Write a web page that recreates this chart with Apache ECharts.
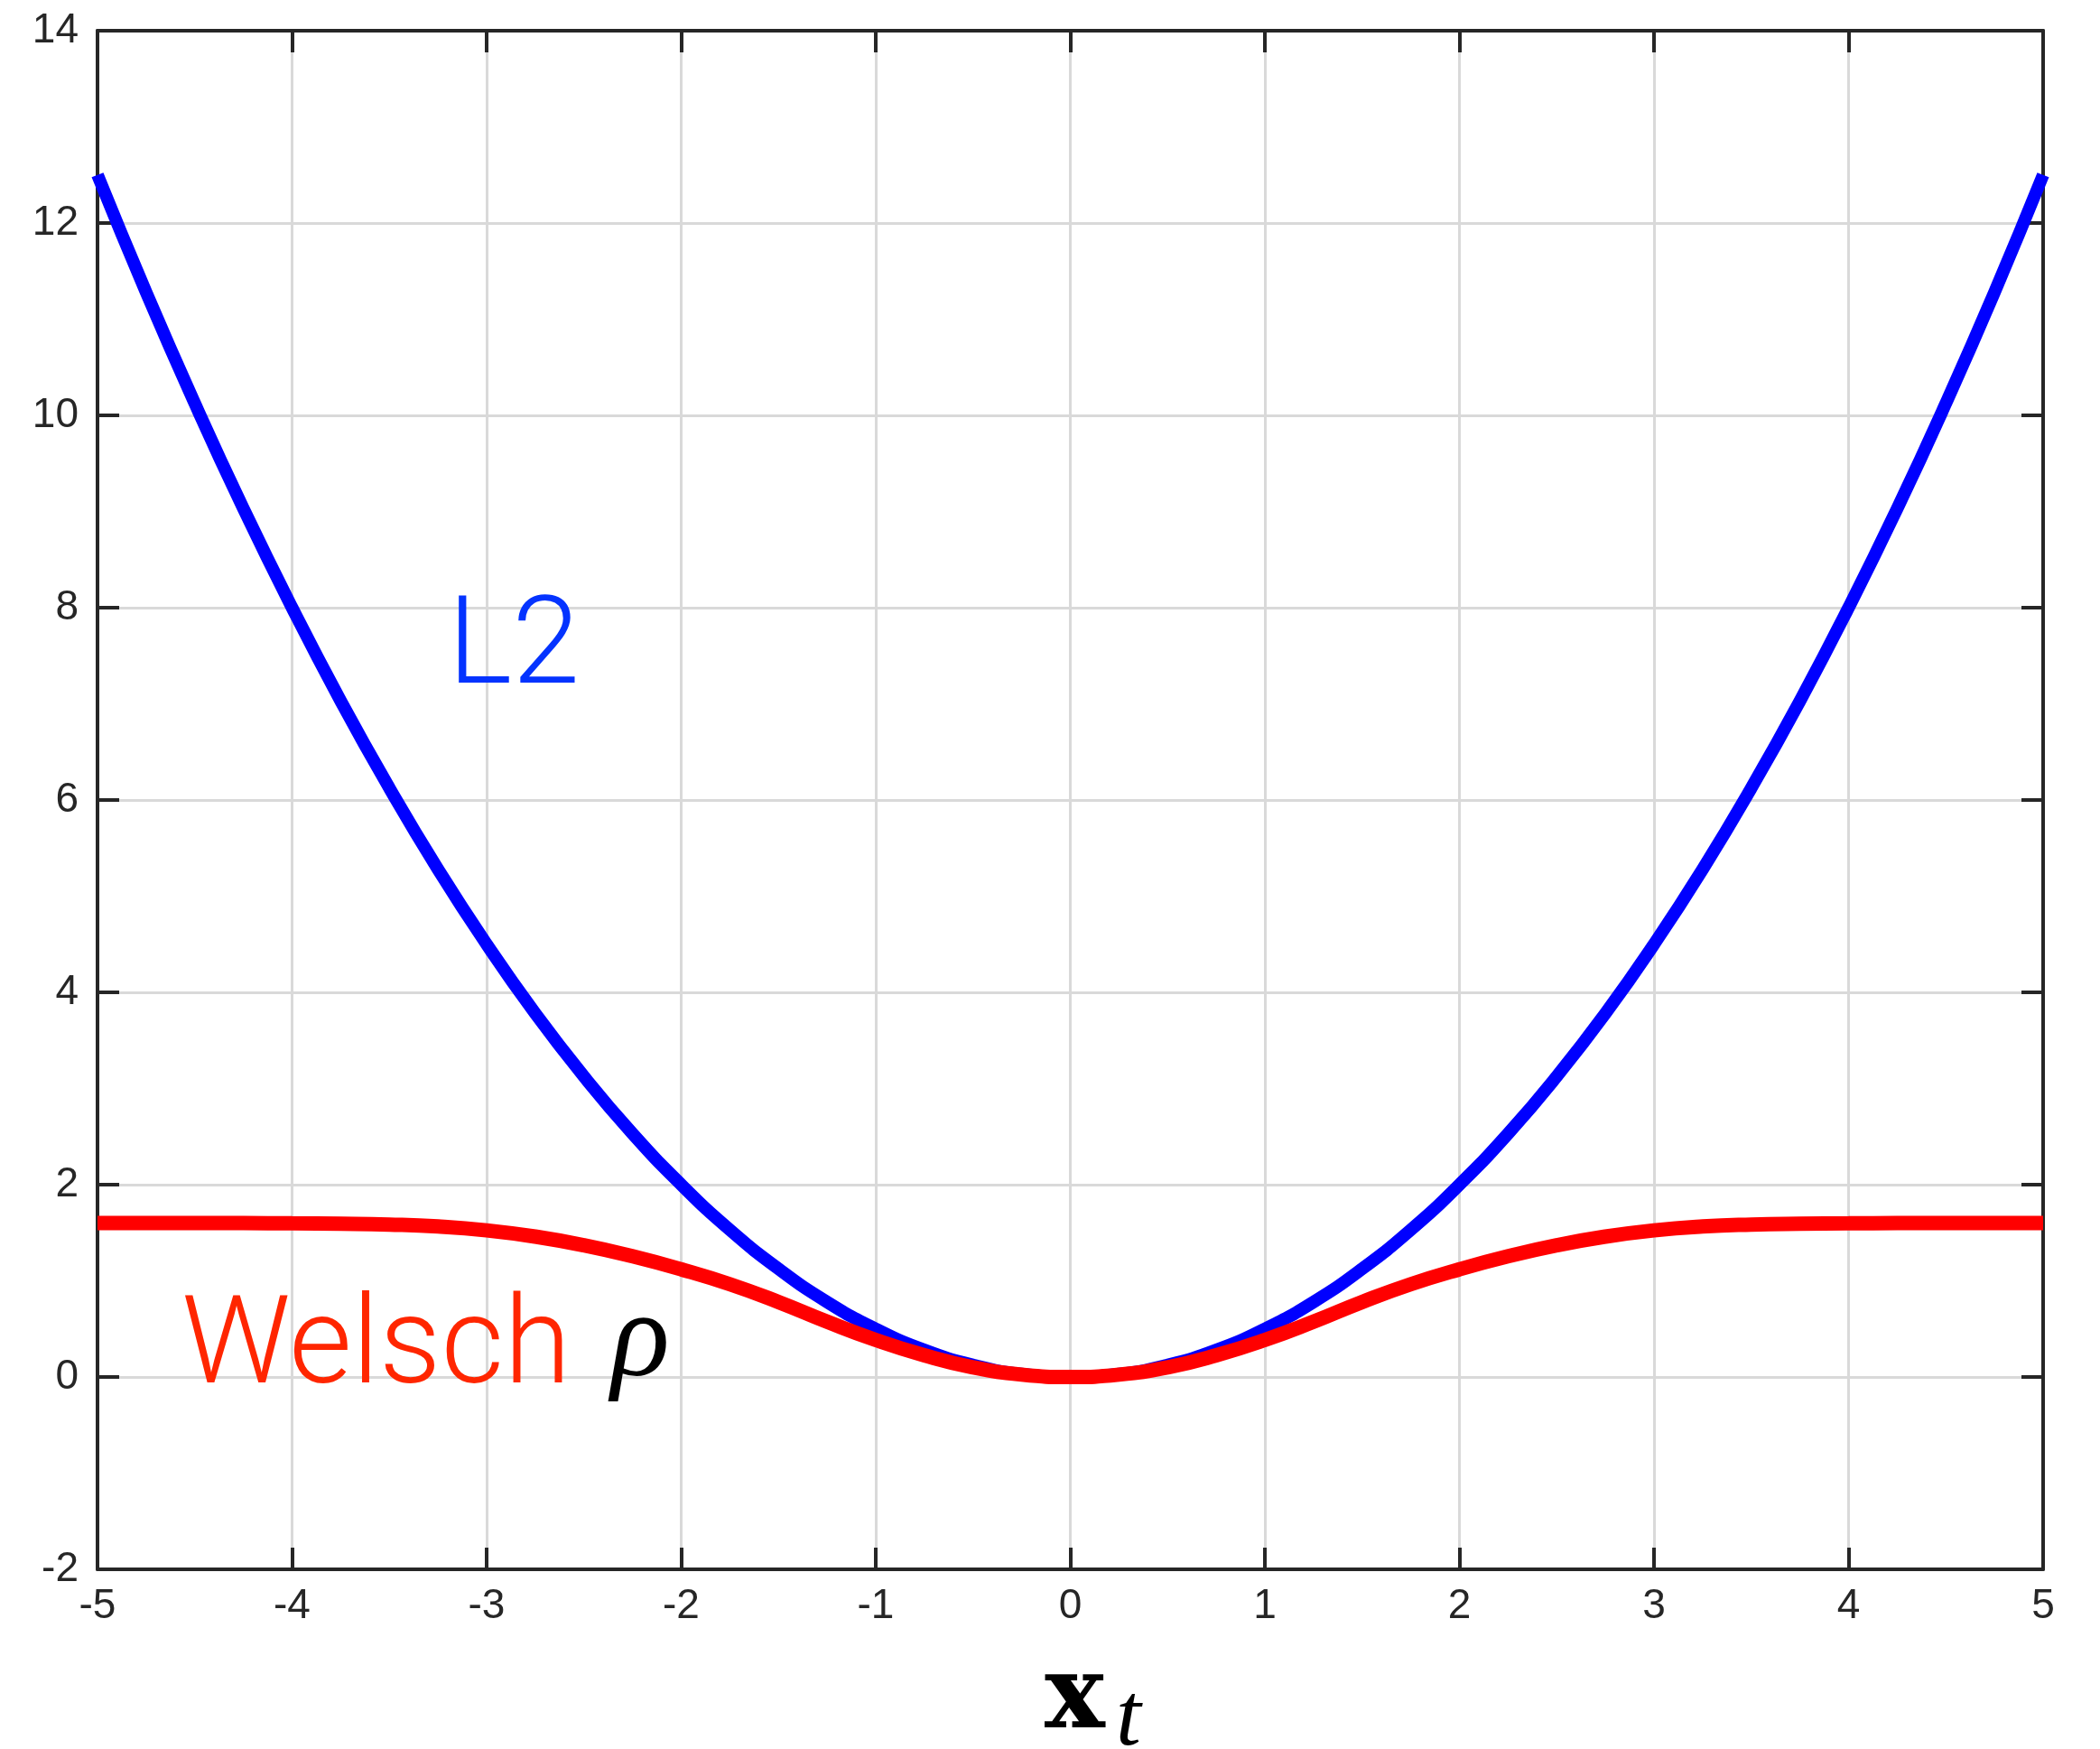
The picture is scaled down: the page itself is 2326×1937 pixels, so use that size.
<!DOCTYPE html>
<html>
<head>
<meta charset="utf-8">
<title>L2 vs Welsch</title>
<script src="https://cdn.jsdelivr.net/npm/echarts@6/dist/echarts.min.js"></script>
<style>
  html, body { margin: 0; padding: 0; background: #ffffff; }
  #chart { width: 2326px; height: 1937px; }
</style>
</head>
<body>
<div id="chart"></div>
<script>
// Sample positions along x_t
const xValues = [-5, -4.75, -4.5, -4.25, -4, -3.75, -3.5, -3.25, -3, -2.75, -2.5, -2.25, -2, -1.75, -1.5, -1.25, -1, -0.75, -0.5, -0.25,
  0, 0.25, 0.5, 0.75, 1, 1.25, 1.5, 1.75, 2, 2.25, 2.5, 2.75, 3, 3.25, 3.5, 3.75, 4, 4.25, 4.5, 4.75, 5];

// Quadratic (L2) penalty
const l2Values = [12.5, 11.28, 10.125, 9.03, 8, 7.03, 6.125, 5.28, 4.5, 3.78, 3.125, 2.53, 2, 1.53, 1.125, 0.78, 0.5, 0.28, 0.125, 0.03,
  0, 0.03, 0.125, 0.28, 0.5, 0.78, 1.125, 1.53, 2, 2.53, 3.125, 3.78, 4.5, 5.28, 6.125, 7.03, 8, 9.03, 10.125, 11.28, 12.5];

// Welsch penalty (saturates near 1.6)
const welschValues = [1.60, 1.60, 1.60, 1.60, 1.598, 1.594, 1.585, 1.565, 1.525, 1.46, 1.37, 1.255, 1.12, 0.965, 0.78, 0.575, 0.385, 0.225, 0.10, 0.025,
  0, 0.025, 0.10, 0.225, 0.385, 0.575, 0.78, 0.965, 1.12, 1.255, 1.37, 1.46, 1.525, 1.565, 1.585, 1.594, 1.598, 1.60, 1.60, 1.60, 1.60];

const xTicks = { min: -5, max: 5, step: 1 };
const yTicks = { min: -2, max: 14, step: 2 };

const pairs = (xs, ys) => xs.map((x, i) => [x, ys[i]]);

const AXIS_COLOR = '#262626';
const GRID_COLOR = '#d9d9d9';
const LABEL_FONT = '"Liberation Sans", Arial, Helvetica, sans-serif';

function boxAxis(extra) {
  return Object.assign({
    type: 'value',
    axisLine: { show: true, onZero: false, lineStyle: { color: AXIS_COLOR, width: 4 } },
    axisTick: { show: true, inside: true, length: 24, lineStyle: { color: AXIS_COLOR, width: 4 } },
    axisLabel: { show: false },
    splitLine: { show: false }
  }, extra);
}

const chart = echarts.init(document.getElementById('chart'), null, { renderer: 'canvas' });

chart.setOption({
  animation: false,
  backgroundColor: '#ffffff',
  grid: { left: 108, right: 63, top: 34, bottom: 199, containLabel: false },
  xAxis: [
    boxAxis({
      position: 'bottom', min: xTicks.min, max: xTicks.max, interval: xTicks.step,
      axisLabel: { show: true, color: AXIS_COLOR, fontSize: 46, fontFamily: LABEL_FONT, margin: 18 },
      splitLine: { show: true, lineStyle: { color: GRID_COLOR, width: 3 } }
    }),
    boxAxis({ position: 'top', min: xTicks.min, max: xTicks.max, interval: xTicks.step })
  ],
  yAxis: [
    boxAxis({
      position: 'left', min: yTicks.min, max: yTicks.max, interval: yTicks.step,
      axisLabel: { show: true, color: AXIS_COLOR, fontSize: 46, fontFamily: LABEL_FONT, margin: 21 },
      splitLine: { show: true, lineStyle: { color: GRID_COLOR, width: 3 } }
    }),
    boxAxis({ position: 'right', min: yTicks.min, max: yTicks.max, interval: yTicks.step })
  ],
  series: [
    {
      name: 'L2', type: 'line', xAxisIndex: 0, yAxisIndex: 0,
      data: pairs(xValues, l2Values), smooth: 0.5, showSymbol: false, symbol: 'none',
      lineStyle: { color: '#0000ff', width: 14 }, z: 3
    },
    {
      name: 'Welsch', type: 'line', xAxisIndex: 0, yAxisIndex: 0,
      data: pairs(xValues, welschValues), smooth: 0.5, showSymbol: false, symbol: 'none',
      lineStyle: { color: '#ff0000', width: 16 }, z: 4
    }
  ],
  graphic: [
    {
      type: 'text', left: 496, top: 655, z: 10,
      style: { text: 'L2', fill: '#0433ff', font: '300 135px Roboto, "Liberation Sans", sans-serif' }
    },
    {
      type: 'text', left: 201, top: 1430, z: 10,
      style: { text: 'Welsch', fill: '#ff2600', font: '300 135px Roboto, "Liberation Sans", sans-serif' }
    },
    {
      type: 'text', left: 677, top: 1420, z: 10,
      style: { text: 'ρ', fill: '#000000', font: 'italic 135px "Liberation Serif", "DejaVu Serif", serif' }
    },
    {
      type: 'text', left: 1157, top: 1828, z: 10,
      style: { text: 'x', fill: '#000000', font: 'bold 112px "DejaVu Serif", "Liberation Serif", serif' }
    },
    {
      type: 'text', left: 1236, top: 1856, z: 10,
      style: { text: 't', fill: '#000000', font: 'italic 100px "Liberation Serif", "DejaVu Serif", serif' }
    }
  ]
});
</script>
</body>
</html>
